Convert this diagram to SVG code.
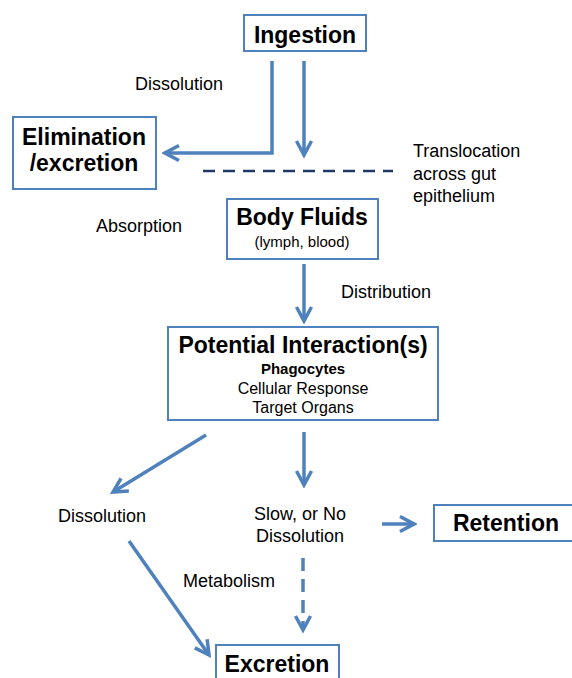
<svg xmlns="http://www.w3.org/2000/svg" width="572" height="678" viewBox="0 0 572 678">
<defs>
<style>
.box{fill:#fff;stroke:#4F81BD;stroke-width:2}
.t{font-family:"Liberation Sans",Arial,sans-serif;fill:#000}
.h{font-size:23px;font-weight:bold;text-anchor:middle}
.l{font-size:18px}
.c{text-anchor:middle}
.arr{fill:none;stroke:#4F81BD;stroke-width:3.5;marker-end:url(#ah)}
</style>
<marker id="ah" markerUnits="userSpaceOnUse" viewBox="-17 -10 20 20" markerWidth="20" markerHeight="20" refX="0" refY="0" orient="auto">
<path d="M-14,-7.5 L0,0 L-14,7.5" fill="none" stroke="#4F81BD" stroke-width="3.5"/>
</marker>
</defs>
<rect width="572" height="678" fill="#fff"/>
<g id="connectors">
<polyline class="arr" points="272,61 272,153 165,153"/>
<line class="arr" x1="304" y1="61" x2="304" y2="155"/>
<line class="arr" x1="304" y1="264" x2="304" y2="321"/>
<line class="arr" x1="206" y1="435" x2="113" y2="492"/>
<line class="arr" x1="304" y1="432" x2="304" y2="485"/>
<line class="arr" x1="382" y1="524" x2="414" y2="524"/>
<line class="arr" x1="129" y1="541" x2="209" y2="655"/>
<line class="arr" x1="303" y1="558" x2="303" y2="630" stroke-dasharray="13,8"/>
<line x1="203" y1="171" x2="393" y2="171" stroke="#1F3864" stroke-width="2.5" stroke-dasharray="12,8"/>
</g>
<g id="ingestion">
<rect class="box" x="244" y="15" width="122" height="36"/>
<text class="t h" x="305" y="43">Ingestion</text>
</g>
<g id="elimination">
<rect class="box" x="13" y="117" width="143" height="72"/>
<text class="t h" x="84" y="145">Elimination</text>
<text class="t h" x="84" y="171">/excretion</text>
</g>
<g id="body-fluids">
<rect class="box" x="227" y="199" width="151" height="60"/>
<text class="t h" x="302" y="225">Body Fluids</text>
<text class="t c" x="302" y="247" font-size="15">(lymph, blood)</text>
</g>
<g id="potential">
<rect class="box" x="168" y="327" width="270" height="93"/>
<text class="t h" x="303" y="353">Potential Interaction(s)</text>
<text class="t c" x="303" y="374" font-size="15" font-weight="bold">Phagocytes</text>
<text class="t c" x="303" y="394" font-size="16">Cellular Response</text>
<text class="t c" x="303" y="413" font-size="16">Target Organs</text>
</g>
<g id="retention">
<rect class="box" x="434" y="505" width="142" height="36"/>
<text class="t h" x="506" y="531">Retention</text>
</g>
<g id="excretion">
<rect class="box" x="216" y="645" width="123" height="50"/>
<text class="t h" x="277" y="672">Excretion</text>
</g>
<g id="labels">
<text class="t l" x="135" y="90">Dissolution</text>
<text class="t l" x="413" y="157">Translocation</text>
<text class="t l" x="413" y="180">across gut</text>
<text class="t l" x="413" y="202">epithelium</text>
<text class="t l" x="96" y="232">Absorption</text>
<text class="t l" x="341" y="298">Distribution</text>
<text class="t l c" x="102" y="522">Dissolution</text>
<text class="t l c" x="300" y="520">Slow, or No</text>
<text class="t l c" x="300" y="542">Dissolution</text>
<text class="t l" x="183" y="587">Metabolism</text>
</g>
</svg>
